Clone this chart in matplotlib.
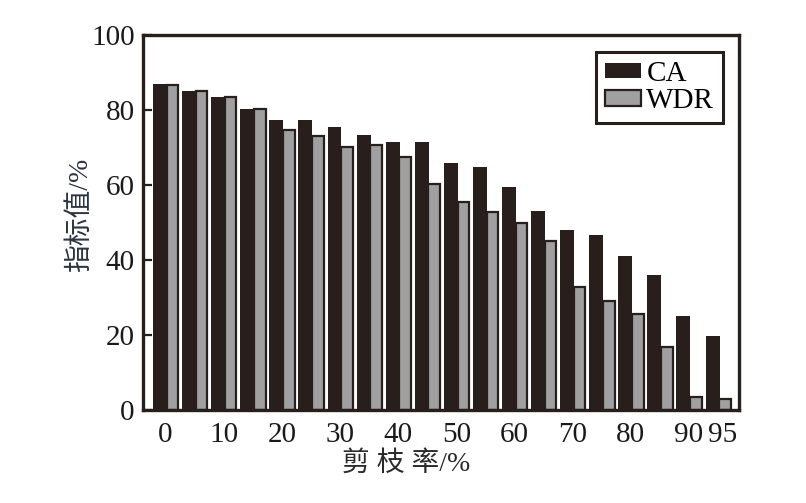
import numpy as np
import matplotlib
matplotlib.use("Agg")
import matplotlib.pyplot as plt
import matplotlib.transforms as mtransforms

# pruning rate (%) and the two indicators
rates = [0, 5, 10, 15, 20, 25, 30, 35, 40, 45, 50, 55, 60, 65, 70, 75, 80, 85, 90, 95]
ca = [87.1, 85.2, 83.4, 80.4, 77.3, 77.5, 75.6, 73.5, 71.4, 71.4,
      65.9, 64.8, 59.5, 53.1, 48.0, 46.7, 41.2, 35.9, 25.1, 19.7]
wdr = [86.8, 85.2, 83.4, 80.4, 74.8, 73.2, 70.2, 70.6, 67.6, 60.4,
       55.4, 52.7, 50.0, 45.0, 32.7, 29.2, 25.5, 16.7, 3.4, 2.8]
tick_idx = [0, 2, 4, 6, 8, 10, 12, 14, 16, 18, 19]

dark = "#281f1c"
gray = "#a0a0a0"
num_font = ["Liberation Serif", "Noto Sans CJK SC"]

fig = plt.figure(figsize=(8.06, 5.03), dpi=100)
ax = fig.add_axes([0.1774, 0.185, 0.7395, 0.745])

x = np.arange(len(rates))
ax.bar(x - 0.43, ca, width=0.48, align="edge", color=dark, label="CA")
ax.bar(x + 0.04, wdr, width=0.40, align="edge", color=gray,
       edgecolor=dark, linewidth=1.6, label="WDR")

ax.set_xlim(-0.775, 19.72)
ax.set_ylim(0, 100)
ax.set_yticks([0, 20, 40, 60, 80, 100])
ax.set_xticks(x[tick_idx])
ax.set_xticklabels([str(rates[i]) for i in tick_idx])

for s in ax.spines.values():
    s.set_linewidth(2.4)
    s.set_color(dark)
ax.tick_params(axis="y", direction="in", length=6.5, width=1.6, color=dark, pad=6)
ax.tick_params(axis="x", length=0, pad=9)
for lab in ax.get_xticklabels() + ax.get_yticklabels():
    lab.set_fontfamily(num_font)
    lab.set_fontsize(21)
    lab.set_color("#1a1a1a")
# last label sits a little to the right so 90 and 95 don't touch
last = ax.get_xticklabels()[-1]
last.set_transform(last.get_transform() +
                   mtransforms.ScaledTranslation(5 / 100, 0, fig.dpi_scale_trans))

ax.text(0.442, -0.145, "剪 枝 率/%", transform=ax.transAxes, ha="center", va="center",
        fontsize=20, family=num_font, color="#2a2a2a")
ax.text(-0.106, 0.52, "指标值/%", transform=ax.transAxes, ha="center", va="center",
        rotation=90, fontsize=20, family=num_font, color="#2b3540")

leg = ax.legend(loc="upper right", bbox_to_anchor=(0.973, 0.955), frameon=True,
                fancybox=False, framealpha=1, prop={"family": num_font, "size": 21},
                handlelength=1.24, handleheight=0.45, handletextpad=0.17,
                borderpad=0.3, labelspacing=0.05, borderaxespad=0)
leg.get_frame().set_edgecolor(dark)
leg.get_frame().set_linewidth(2.2)

fig.savefig("out.png", dpi=100)
